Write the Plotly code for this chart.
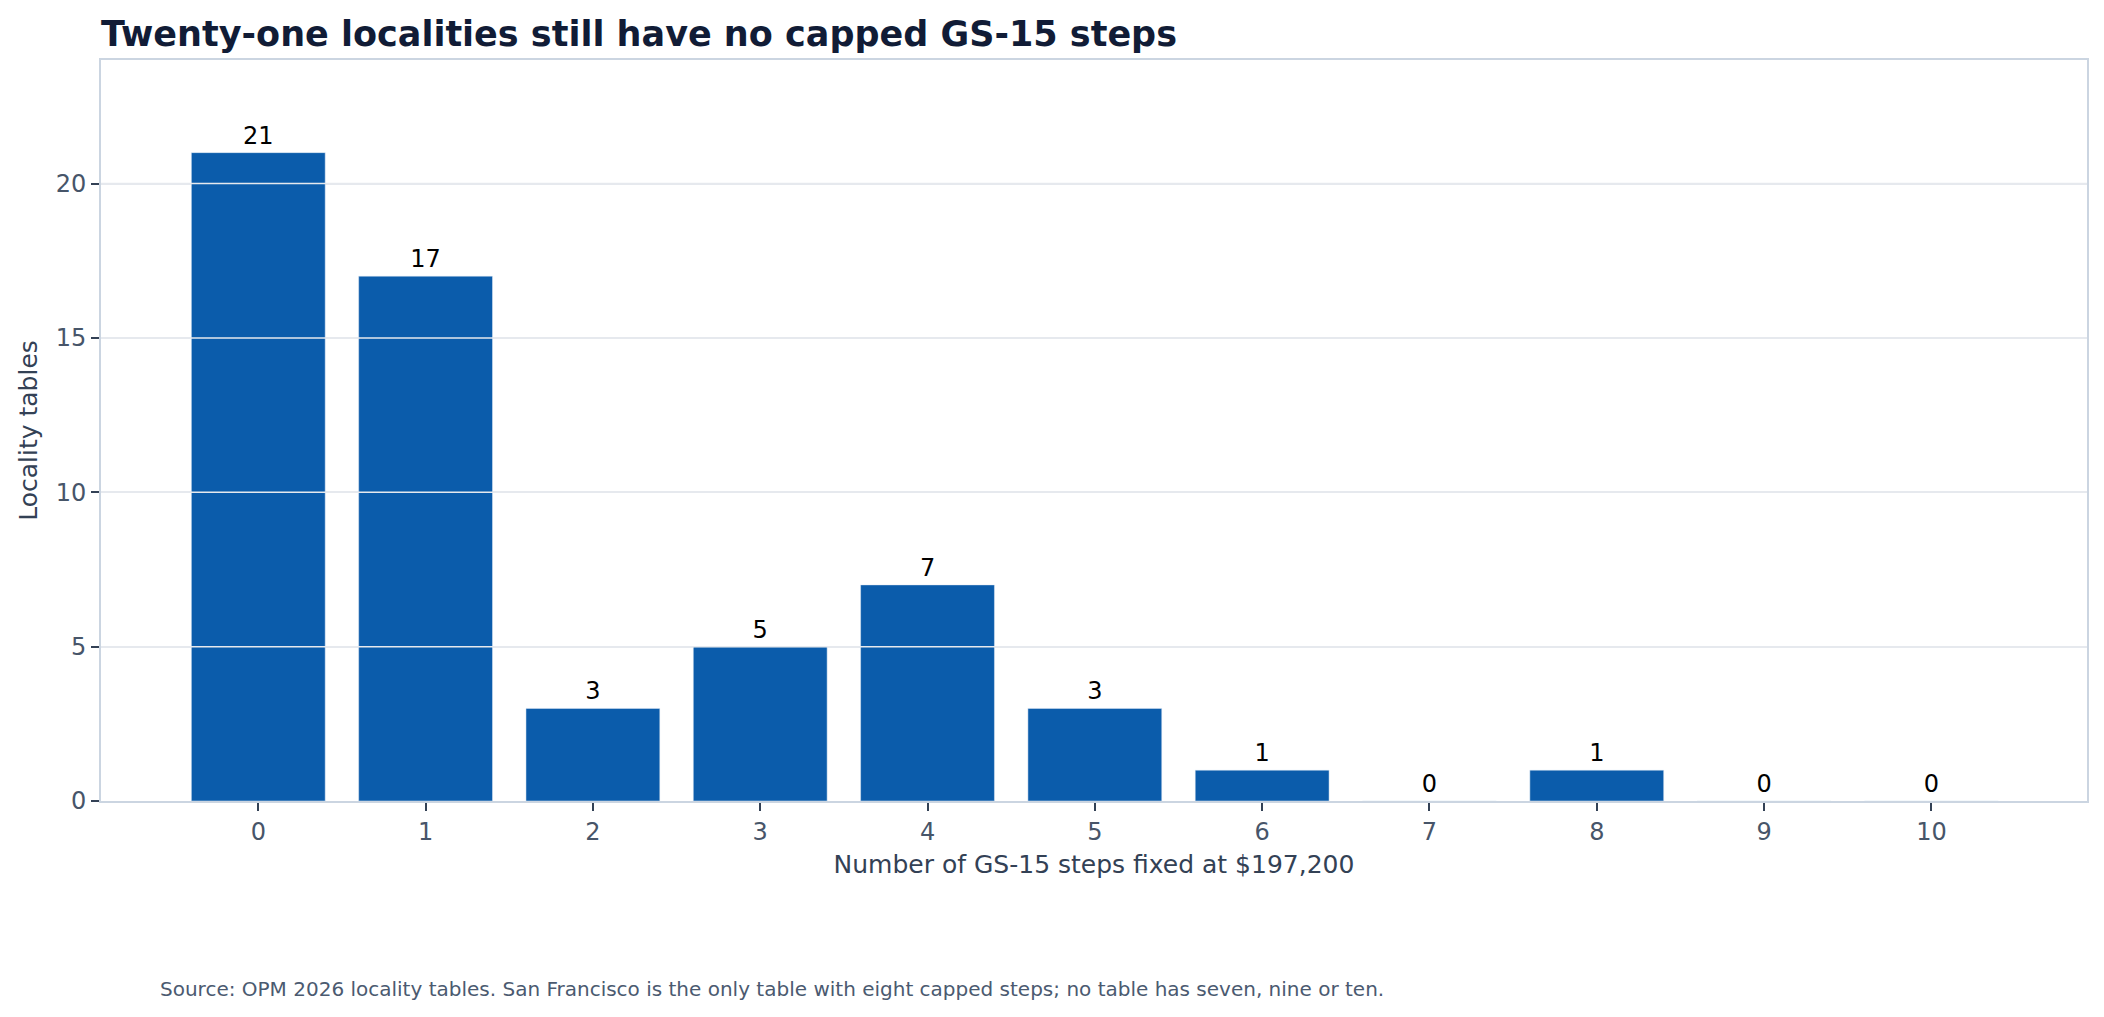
import plotly.graph_objects as go

steps = [0, 1, 2, 3, 4, 5, 6, 7, 8, 9, 10]
tables = [21, 17, 3, 5, 7, 3, 1, 0, 1, 0, 0]
y_ticks = [0, 5, 10, 15, 20]

title_text = "Twenty-one localities still have no capped GS-15 steps"
source_text = ("Source: OPM 2026 locality tables. San Francisco is the only table with "
               "eight capped steps; no table has seven, nine or ten.")

W, H = 2104, 1017
ml, mr, mt, mb = 101, 17, 60, 216
plot_w = W - ml - mr
plot_h = H - mt - mb

font_family = "DejaVu Sans"
bar_color = "#0b5cab"
grid_color = "#e6e9ee"

fig = go.Figure(
    go.Bar(
        x=steps,
        y=tables,
        marker_color=bar_color,
        text=tables,
        textposition="outside",
        textfont=dict(color="#000000", size=24),
        cliponaxis=False,
        hoverinfo="x+y",
    )
)

# gridlines sit on top of the bars in the original
grid_shapes = [
    dict(type="line", xref="paper", x0=0, x1=1, yref="y", y0=v, y1=v,
         line=dict(color=grid_color, width=1.5), layer="above")
    for v in y_ticks[1:]
]

fig.update_layout(
    width=W,
    height=H,
    margin=dict(l=ml, r=mr, t=mt, b=mb),
    paper_bgcolor="#ffffff",
    plot_bgcolor="#ffffff",
    font=dict(family=font_family, size=24, color="#475569"),
    bargap=0.2,
    showlegend=False,
    shapes=grid_shapes,
    title=dict(
        text="<b>" + title_text + "</b>",
        x=0, xref="paper", xanchor="left",
        y=1 - 34 / H, yref="container", yanchor="middle",
        font=dict(size=35, color="#111c36"),
    ),
    annotations=[
        dict(
            text=source_text,
            x=(158 - ml) / plot_w, xref="paper", xanchor="left",
            y=-(989 - (H - mb)) / plot_h, yref="paper", yanchor="middle",
            showarrow=False,
            font=dict(size=20, color="#4b5a70"),
        )
    ],
)

fig.update_xaxes(
    type="linear",
    range=[-0.94, 10.93],
    tickmode="array",
    tickvals=steps,
    ticks="outside",
    ticklen=8,
    tickwidth=2,
    tickcolor="#334155",
    showline=True,
    linecolor="#cbd5e1",
    linewidth=2,
    mirror=True,
    showgrid=False,
    zeroline=False,
    title=dict(text="Number of GS-15 steps fixed at $197,200",
               font=dict(size=25, color="#334155"), standoff=11),
)
fig.update_yaxes(
    range=[0, 24],
    tickmode="array",
    tickvals=y_ticks,
    ticks="outside",
    ticklen=8,
    tickwidth=2,
    tickcolor="#334155",
    showline=True,
    linecolor="#cbd5e1",
    linewidth=2,
    mirror=True,
    showgrid=True,
    gridcolor=grid_color,
    gridwidth=1.5,
    zeroline=False,
    title=dict(text="Locality tables", font=dict(size=25, color="#334155"), standoff=11),
)

fig.write_html("out.html", config={"displayModeBar": False},
               post_script="document.body.style.margin='0';")
